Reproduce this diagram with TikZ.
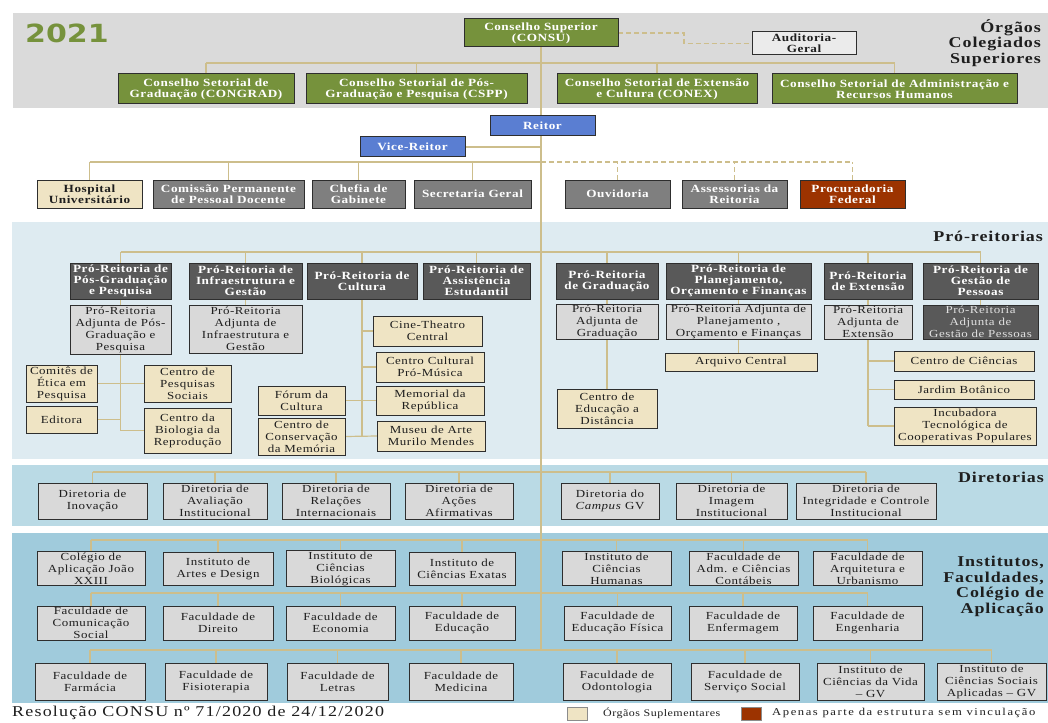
\documentclass[tikz,border=0pt]{standalone}
\usepackage{fontspec}
\setmainfont[FakeStretch=1.2,LetterSpace=5]{Liberation Serif}
\newfontfamily\headfont[FakeStretch=1.2,LetterSpace=6]{Liberation Serif}
\newfontfamily\notefont[FakeStretch=1.2,LetterSpace=8]{Liberation Serif}
\newfontfamily\widefont[FakeStretch=1.2,LetterSpace=15]{Liberation Serif}
\newfontfamily\yearfont[FakeStretch=1.2]{DejaVu Sans}

\definecolor{bandgray}{HTML}{DADADA}
\definecolor{bandpro}{HTML}{DEEBF1}
\definecolor{banddir}{HTML}{BADAE5}
\definecolor{bandinst}{HTML}{A0CBDC}
\definecolor{olivegreen}{HTML}{76923C}
\definecolor{rectorblue}{HTML}{5A7ED2}
\definecolor{midgray}{HTML}{7F7F7F}
\definecolor{deepgray}{HTML}{595959}
\definecolor{palegray}{HTML}{D9D9D9}
\definecolor{suptan}{HTML}{EFE4C4}
\definecolor{procred}{HTML}{9C3300}
\definecolor{linkcol}{HTML}{CDBE8C}
\definecolor{boxedge}{HTML}{2E2E2E}
\definecolor{inktext}{HTML}{1E1E1E}

\pgfdeclarelayer{bands}
\pgfdeclarelayer{links}
\pgfsetlayers{bands,links,main}

\tikzset{
  box/.style={draw=boxedge, line width=1pt, inner sep=1pt, outer sep=0pt, align=center},
  boldtxt/.style={font=\fontsize{11}{11}\selectfont\bfseries},
  regtxt/.style={font=\fontsize{10.8}{12}\selectfont},
  council/.style={box, boldtxt, fill=olivegreen, text=white},
  audit/.style={box, boldtxt, fill=white!92!black, text=inktext},
  rector/.style={box, boldtxt, fill=rectorblue, text=white},
  staff/.style={box, boldtxt, fill=midgray, text=white},
  hospital/.style={box, boldtxt, fill=suptan, text=inktext},
  attorney/.style={box, boldtxt, fill=procred, text=white},
  prohead/.style={box, boldtxt, fill=deepgray, text=white},
  adjunct/.style={box, regtxt, fill=palegray, text=inktext},
  adjunctdark/.style={box, regtxt, fill=deepgray, text=white!88!black},
  supl/.style={box, regtxt, fill=suptan, text=inktext},
  unit/.style={box, regtxt, fill=palegray, text=inktext},
  link/.style={draw=linkcol, line width=1.2pt},
  heading/.style={font=\headfont\fontsize{15}{15.5}\selectfont\bfseries, text=inktext, inner sep=0pt, align=right}
}

% box from its corners (x1,y1)-(x2,y2), y measured downwards
\newcommand\ogbox[7]{%
  \pgfmathsetmacro\ogcx{(#3+#5)/2}%
  \pgfmathsetmacro\ogcy{(#4+#6)/2}%
  \pgfmathsetmacro\ogw{#5-#3}%
  \pgfmathsetmacro\ogh{#6-#4}%
  \node[#1, minimum width=\ogw pt, minimum height=\ogh pt] (#2) at (\ogcx,\ogcy) {#7};}

\begin{document}
\begin{tikzpicture}[x=1pt, y=-1pt]
\useasboundingbox (0,0) rectangle (1048,722);

% ---------- bands ----------
\begin{pgfonlayer}{bands}
  \fill[white] (0,0) rectangle (1048,722);
  \fill[bandgray] (13,13) rectangle (1048,108);
  \fill[bandpro]  (12,222) rectangle (1048,459);
  \fill[banddir]  (12,465) rectangle (1048,526);
  \fill[bandinst] (12,533) rectangle (1048,703);
\end{pgfonlayer}

% ---------- headings ----------
\node[font=\yearfont\fontsize{25}{25}\selectfont\bfseries, text=olivegreen, anchor=west, inner sep=0pt] (year) at (25,33) {2021};
\node[heading, anchor=north east] (hdcol) at (1041,19) {Órgãos\\Colegiados\\Superiores};
\node[heading, anchor=east] (hdpro) at (1043,236) {Pró-reitorias};
\node[heading, anchor=east] (hddir) at (1044,477) {Diretorias};
\node[heading, anchor=north east] (hdinst) at (1044,556) {Institutos,\\Faculdades,\\Colégio de\\Aplicação};

% ---------- superior councils ----------
\ogbox{council}{consu}{464}{19}{618}{47}{Conselho Superior\\(CONSU)}
\ogbox{audit}{aud}{752}{32}{856}{55}{Auditoria-\\Geral}
\ogbox{council}{congrad}{118}{74}{294}{104}{Conselho Setorial de\\Graduação (CONGRAD)}
\ogbox{council}{cspp}{306}{74}{527}{104}{Conselho Setorial de Pós-\\Graduação e Pesquisa (CSPP)}
\ogbox{council}{conex}{557}{74}{757}{104}{Conselho Setorial de Extensão\\e Cultura (CONEX)}
\ogbox{council}{cadrh}{772}{74}{1017}{104}{Conselho Setorial de Administração e\\Recursos Humanos}

% ---------- rectorate ----------
\ogbox{rector}{reitor}{490}{116}{595}{136}{Reitor}
\ogbox{rector}{vice}{360}{137}{465}{157}{Vice-Reitor}
\ogbox{hospital}{hu}{37}{180}{142}{208}{Hospital\\Universitário}
\ogbox{staff}{cppd}{153}{180}{304}{208}{Comissão Permanente\\de Pessoal Docente}
\ogbox{staff}{chefia}{312}{180}{405}{208}{Chefia de\\Gabinete}
\ogbox{staff}{secger}{414}{180}{531}{208}{Secretaria Geral}
\ogbox{staff}{ouvid}{565}{180}{670}{208}{Ouvidoria}
\ogbox{staff}{assess}{682}{180}{787}{208}{Assessorias da\\Reitoria}
\ogbox{attorney}{procur}{800}{180}{905}{208}{Procuradoria\\Federal}

% ---------- pro-rectorates ----------
\ogbox{prohead}{propp}{70}{263}{171}{299}{Pró-Reitoria de\\Pós-Graduação\\e Pesquisa}
\ogbox{prohead}{proinfra}{189}{263}{302}{299}{Pró-Reitoria de\\Infraestrutura e\\Gestão}
\ogbox{prohead}{procult}{307}{263}{417}{299}{Pró-Reitoria de\\Cultura}
\ogbox{prohead}{proae}{423}{263}{530}{299}{Pró-Reitoria de\\Assistência\\Estudantil}
\ogbox{prohead}{prograd}{556}{263}{658}{299}{Pró-Reitoria\\de Graduação}
\ogbox{prohead}{proplan}{666}{263}{811}{299}{Pró-Reitoria de\\Planejamento,\\Orçamento e Finanças}
\ogbox{prohead}{proex}{824}{263}{912}{299}{Pró-Reitoria\\de Extensão}
\ogbox{prohead}{progepe}{923}{263}{1038}{299}{Pró-Reitoria de\\Gestão de\\Pessoas}

\ogbox{adjunct}{adjpp}{70}{305}{171}{354}{Pró-Reitoria\\Adjunta de Pós-\\Graduação e\\Pesquisa}
\ogbox{adjunct}{adjinfra}{189}{305}{302}{353}{Pró-Reitoria\\Adjunta de\\Infraestrutura e\\Gestão}
\ogbox{adjunct}{adjgrad}{556}{305}{658}{339}{Pró-Reitoria\\Adjunta de\\Graduação}
\ogbox{adjunct}{adjplan}{666}{305}{811}{339}{Pró-Reitoria Adjunta de\\Planejamento ,\\Orçamento e Finanças}
\ogbox{adjunct}{adjex}{824}{305}{912}{339}{Pró-Reitoria\\Adjunta de\\Extensão}
\ogbox{adjunctdark}{adjgp}{923}{305}{1038}{339}{Pró-Reitoria\\Adjunta de\\Gestão de Pessoas}

% supplementary bodies
\ogbox{supl}{comites}{26}{365}{97}{402}{Comitês de\\Ética em\\Pesquisa}
\ogbox{supl}{cps}{144}{365}{231}{402}{Centro de\\Pesquisas\\Sociais}
\ogbox{supl}{editora}{26}{406}{97}{433}{Editora}
\ogbox{supl}{cbr}{144}{408}{231}{453}{Centro da\\Biologia da\\Reprodução}
\ogbox{supl}{cine}{373}{316}{482}{346}{Cine-Theatro\\Central}
\ogbox{supl}{promus}{376}{352}{484}{382}{Centro Cultural\\Pró-Música}
\ogbox{supl}{memorial}{376}{386}{484}{415}{Memorial da\\República}
\ogbox{supl}{mamm}{377}{421}{485}{451}{Museu de Arte\\Murilo Mendes}
\ogbox{supl}{forum}{258}{386}{345}{415}{Fórum da\\Cultura}
\ogbox{supl}{ccm}{258}{418}{345}{455}{Centro de\\Conservação\\da Memória}
\ogbox{supl}{cead}{557}{389}{657}{428}{Centro de\\Educação a\\Distância}
\ogbox{supl}{arquivo}{665}{353}{817}{371}{Arquivo Central}
\ogbox{supl}{cciencias}{894}{351}{1034}{371}{Centro de Ciências}
\ogbox{supl}{jardim}{894}{380}{1034}{399}{Jardim Botânico}
\ogbox{supl}{incub}{894}{407}{1036}{445}{Incubadora\\Tecnológica de\\Cooperativas Populares}

% ---------- directorates ----------
\ogbox{unit}{dinov}{38}{483}{147}{519}{Diretoria de\\Inovação}
\ogbox{unit}{daval}{163}{483}{267}{519}{Diretoria de\\Avaliação\\Institucional}
\ogbox{unit}{dri}{282}{483}{390}{519}{Diretoria de\\Relações\\Internacionais}
\ogbox{unit}{dacoes}{405}{483}{513}{519}{Diretoria de\\Ações\\Afirmativas}
\ogbox{unit}{dgv}{561}{483}{659}{519}{Diretoria do\\\textit{Campus} GV}
\ogbox{unit}{dimagem}{676}{483}{787}{519}{Diretoria de\\Imagem\\Institucional}
\ogbox{unit}{dinteg}{796}{483}{936}{519}{Diretoria de\\Integridade e Controle\\Institucional}

% ---------- institutes and faculties ----------
\ogbox{unit}{cap}{37}{552}{145}{585}{Colégio de\\Aplicação João\\XXIII}
\ogbox{unit}{iad}{163}{552}{273}{585}{Instituto de\\Artes e Design}
\ogbox{unit}{icb}{286}{552}{395}{585}{Instituto de\\Ciências\\Biológicas}
\ogbox{unit}{ice}{409}{552}{515}{585}{Instituto de\\Ciências Exatas}
\ogbox{unit}{ich}{562}{552}{671}{585}{Instituto de\\Ciências\\Humanas}
\ogbox{unit}{facc}{689}{552}{798}{585}{Faculdade de\\Adm. e Ciências\\Contábeis}
\ogbox{unit}{fau}{813}{552}{922}{585}{Faculdade de\\Arquitetura e\\Urbanismo}

\ogbox{unit}{facom}{37}{606}{145}{640}{Faculdade de\\Comunicação\\Social}
\ogbox{unit}{fdir}{163}{606}{273}{640}{Faculdade de\\Direito}
\ogbox{unit}{fe}{286}{606}{395}{640}{Faculdade de\\Economia}
\ogbox{unit}{faced}{409}{606}{515}{640}{Faculdade de\\Educação}
\ogbox{unit}{faefid}{564}{606}{671}{640}{Faculdade de\\Educação Física}
\ogbox{unit}{fenf}{689}{606}{797}{640}{Faculdade de\\Enfermagem}
\ogbox{unit}{feng}{813}{606}{922}{640}{Faculdade de\\Engenharia}

\ogbox{unit}{ffar}{35}{663}{145}{700}{Faculdade de\\Farmácia}
\ogbox{unit}{ffis}{165}{663}{267}{700}{Faculdade de\\Fisioterapia}
\ogbox{unit}{flet}{287}{663}{388}{700}{Faculdade de\\Letras}
\ogbox{unit}{fmed}{409}{663}{513}{700}{Faculdade de\\Medicina}
\ogbox{unit}{fodo}{563}{663}{671}{700}{Faculdade de\\Odontologia}
\ogbox{unit}{fss}{691}{663}{799}{700}{Faculdade de\\Serviço Social}
\ogbox{unit}{icv}{817}{663}{924}{700}{Instituto de\\Ciências da Vida\\– GV}
\ogbox{unit}{icsa}{937}{663}{1046}{700}{Instituto de\\Ciências Sociais\\Aplicadas – GV}

% ---------- footer and legend ----------
\node[font=\notefont\fontsize{15}{15}\selectfont, text=inktext, anchor=west, inner sep=0pt] (resol) at (12,713) {Resolução CONSU nº 71/2020 de 24/12/2020};
\ogbox{box, fill=suptan, draw=black!45, line width=0.8pt}{legtan}{567}{707}{587}{720}{}
\node[font=\fontsize{10}{11}\selectfont, text=inktext, anchor=west, inner sep=0pt] (legtantxt) at (603,713) {Órgãos Suplementares};
\ogbox{box, fill=procred, draw=black!45, line width=0.8pt}{legred}{741}{707}{761}{720}{}
\node[font=\widefont\fontsize{10.5}{11}\selectfont, text=inktext, anchor=west, inner sep=0pt] (legredtxt) at (772,713) {Apenas parte da estrutura sem vinculação};

% ---------- connectors ----------
\begin{pgfonlayer}{links}
  \coordinate (bcs)  at (0,63);
  \coordinate (brl)  at (0,162);
  \coordinate (bpr)  at (0,252);
  \coordinate (bdir) at (0,472);
  \coordinate (bi1)  at (0,540);
  \coordinate (bi2)  at (0,593);
  \coordinate (bi3)  at (0,650);

  % main trunk
  \draw[link] (consu.south) -- (consu.south |- bi3);

  % sector councils
  \draw[link] (congrad.north |- bcs) -- (cadrh.north |- bcs);
  \foreach \n in {congrad,cspp,conex,cadrh}
    \draw[link] (\n.north) -- (\n.north |- bcs);
  \draw[link, dash pattern=on 5pt off 3pt] (consu.east) -- ++(66,0) |- (aud.west);

  % rectorate
  \draw[link] (vice.east) -- (vice.east -| consu.south);
  \draw[link] (hu.north |- brl) -- (consu.south |- brl);
  \foreach \n in {hu,cppd,chefia,secger}
    \draw[link] (\n.north) -- (\n.north |- brl);
  \draw[link, dash pattern=on 5pt off 3pt] (consu.south |- brl) -- (procur.north |- brl);
  \foreach \n in {ouvid,assess,procur}
    \draw[link, dash pattern=on 5pt off 3pt] (\n.north) -- (\n.north |- brl);

  % pro-rectorates
  \draw[link] (propp.north |- bpr) -- (progepe.north |- bpr);
  \foreach \n in {propp,proinfra,procult,proae,prograd,proplan,proex,progepe}
    \draw[link] (\n.north) -- (\n.north |- bpr);
  \foreach \a/\b in {propp/adjpp,proinfra/adjinfra,prograd/adjgrad,proplan/adjplan,proex/adjex,progepe/adjgp}
    \draw[link] (\a.south) -- (\b.north);

  \draw[link] (adjpp.south) -- (adjpp.south |- cbr.west) -- (cbr.west);
  \draw[link] (comites.east) -- (cps.west);
  \draw[link] (editora.east) -- (editora.east -| adjpp.south);

  \draw[link] (procult.south) -- (procult.south |- mamm.west);
  \draw[link] (ccm.east) -- (mamm.west);
  \draw[link] (forum.east) -- (memorial.west);
  \draw[link] (cine.west) -- (cine.west -| procult.south);
  \draw[link] (promus.west) -- (promus.west -| procult.south);

  \draw[link] (adjgrad.south) -- (cead.north);
  \draw[link] (adjplan.south) -- (adjplan.south |- arquivo.north);
  \draw[link] (adjex.south) -- (adjex.south |- incub.west);
  \foreach \n in {cciencias,jardim,incub}
    \draw[link] (\n.west) -- (\n.west -| adjex.south);

  % directorates
  \draw[link] (dinov.north |- bdir) -- (dinteg.north |- bdir);
  \foreach \n in {dinov,daval,dri,dacoes,dgv,dimagem,dinteg}
    \draw[link] (\n.north) -- (\n.north |- bdir);

  % institutes and faculties
  \draw[link] (cap.north |- bi1) -- (fau.north |- bi1);
  \foreach \n in {cap,iad,icb,ice,ich,facc,fau}
    \draw[link] (\n.north) -- (\n.north |- bi1);
  \draw[link] (facom.north |- bi2) -- (feng.north |- bi2);
  \foreach \n in {facom,fdir,fe,faced,faefid,fenf,feng}
    \draw[link] (\n.north) -- (\n.north |- bi2);
  \draw[link] (ffar.north |- bi3) -- (icsa.north |- bi3);
  \foreach \n in {ffar,ffis,flet,fmed,fodo,fss,icv,icsa}
    \draw[link] (\n.north) -- (\n.north |- bi3);
\end{pgfonlayer}
\end{tikzpicture}
\end{document}
